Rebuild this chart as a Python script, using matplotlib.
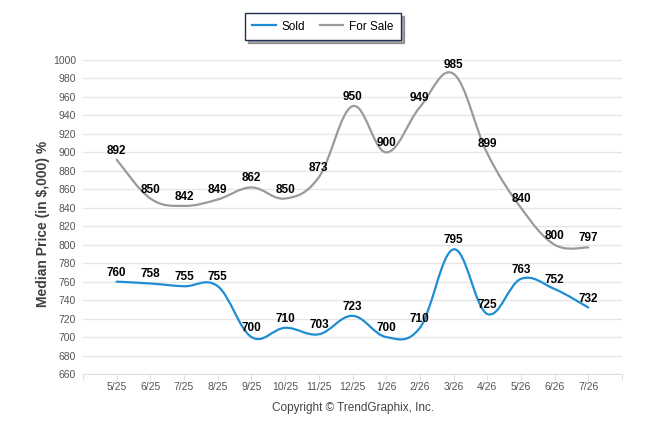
import matplotlib
matplotlib.use('Agg')
import matplotlib.pyplot as plt
from matplotlib.path import Path
from matplotlib.patches import PathPatch
from matplotlib.lines import Line2D

months = ['5/25', '6/25', '7/25', '8/25', '9/25', '10/25', '11/25', '12/25',
          '1/26', '2/26', '3/26', '4/26', '5/26', '6/26', '7/26']
sold = [760, 758, 755, 755, 700, 710, 703, 723, 700, 710, 795, 725, 763, 752, 732]
for_sale = [892, 850, 842, 849, 862, 850, 873, 950, 900, 949, 985, 899, 840, 800, 797]
y_ticks = list(range(660, 1001, 20))

sold_color = '#1f8dd6'
sale_color = '#9a9a9a'

plt.rcParams['font.family'] = ['Liberation Sans', 'DejaVu Sans']


def spline_path(xs, ys, tension=0.55):
    # cardinal spline as cubic bezier segments (like the .net chart spline)
    pts = list(zip(xs, ys))
    n = len(pts)
    verts = [pts[0]]
    codes = [Path.MOVETO]
    k = tension / 3.0
    for i in range(n - 1):
        p0 = pts[i - 1] if i > 0 else pts[i]
        p1 = pts[i]
        p2 = pts[i + 1]
        p3 = pts[i + 2] if i + 2 < n else pts[i + 1]
        c1 = (p1[0] + k * (p2[0] - p0[0]), p1[1] + k * (p2[1] - p0[1]))
        c2 = (p2[0] - k * (p3[0] - p1[0]), p2[1] - k * (p3[1] - p1[1]))
        verts += [c1, c2, p2]
        codes += [Path.CURVE4] * 3
    return Path(verts, codes)


fig = plt.figure(figsize=(6.46, 4.34), dpi=100)
ax = fig.add_axes([83 / 646, 60 / 434, 539 / 646, 314 / 434])

x = list(range(len(months)))
for vals, c in [(for_sale, sale_color), (sold, sold_color)]:
    ax.add_patch(PathPatch(spline_path(x, vals), fill=False, edgecolor=c,
                           lw=1.6, capstyle='round', joinstyle='round'))
    for i, v in zip(x, vals):
        ax.annotate(str(v), (i, v), xytext=(0, 9), textcoords='offset pixels',
                    ha='center', va='center', fontsize=8.5, fontweight='bold',
                    color='black')

ax.set_xlim(-1, len(months))
ax.set_ylim(660, 1000)
ax.set_yticks(y_ticks)
ax.set_xticks(range(-1, len(months) + 1))
ax.set_xticklabels([''] + months + [''])
ax.grid(axis='y', color='#e6e6e6', lw=1)
ax.set_axisbelow(True)
for s in ['top', 'right', 'left']:
    ax.spines[s].set_visible(False)
ax.spines['bottom'].set_color('#e0e0e0')
ax.tick_params(axis='y', length=0, pad=5, labelsize=7.5, labelcolor='#555555')
ax.tick_params(axis='x', length=4, color='#e0e0e0', pad=1.5, labelsize=7.5,
               labelcolor='#555555')

fig.text(43 / 646, 1 - 224 / 434, 'Median Price (in $,000) %', rotation=90,
         ha='center', va='center', fontsize=10, fontweight='bold', color='#404040')
fig.text(353 / 646, 1 - 408 / 434, 'Copyright \u00a9 TrendGraphix, Inc.',
         ha='center', va='center', fontsize=8.5, color='#444444')

handles = [Line2D([], [], color=sold_color, lw=1.6),
           Line2D([], [], color=sale_color, lw=1.6)]
leg = fig.legend(handles, ['Sold', 'For Sale'], loc='center',
                 bbox_to_anchor=(323 / 646, 1 - 26.5 / 434), ncol=2,
                 fontsize=8.5, frameon=True, fancybox=False, shadow=True,
                 handlelength=2.0, handletextpad=0.5, columnspacing=1.2,
                 borderpad=0.65)
leg.get_frame().set_edgecolor('#1f2f5a')
leg.get_frame().set_linewidth(1)

fig.savefig('out.png', dpi=100)
